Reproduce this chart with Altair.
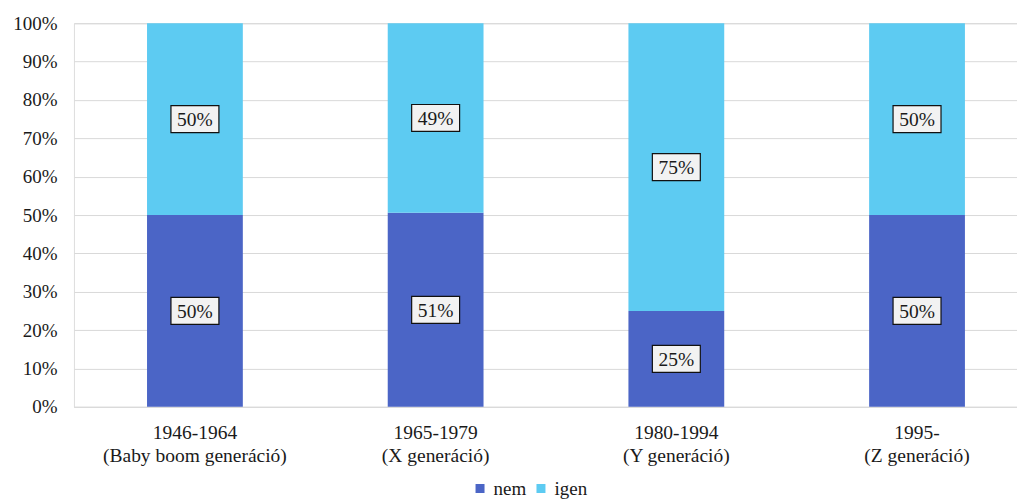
import altair as alt
import pandas as pd

categories = [
    "1946-1964|(Baby boom generáció)",
    "1965-1979|(X generáció)",
    "1980-1994|(Y generáció)",
    "1995-|(Z generáció)",
]
series = ["nem", "igen"]
nem = [0.50, 0.506, 0.25, 0.50]
igen = [0.50, 0.494, 0.75, 0.50]
colors = ["#4B65C6", "#5DCBF2"]
yticks = [0.0, 0.1, 0.2, 0.3, 0.4, 0.5, 0.6, 0.7, 0.8, 0.9, 1.0]

rows = []
for i, c in enumerate(categories):
    rows.append({"cat": c, "series": "nem", "ord": 0, "value": nem[i]})
    rows.append({"cat": c, "series": "igen", "ord": 1, "value": igen[i]})
df = pd.DataFrame(rows)

FONT = "Times New Roman, Liberation Serif, DejaVu Serif, serif"
TXT = "#1a1a1a"

base = alt.Chart(df).transform_stack(
    stack="value", groupby=["cat"], as_=["y0", "y1"], sort=[alt.SortField("ord", order="ascending")]
).transform_calculate(mid="(datum.y0 + datum.y1) / 2")

xaxis = alt.Axis(
    labelAngle=0,
    labelExpr="split(datum.label, '|')",
    labelFont=FONT,
    labelFontSize=19.5,
    labelColor=TXT,
    labelLineHeight=23,
    labelPadding=17,
    labelLimit=400,
    ticks=False,
    domain=True,
    domainColor="#d9d9d9",
    domainWidth=1,
    grid=False,
)
xscale = alt.Scale(paddingInner=0.602, paddingOuter=0.26, align=0.584)

yaxis = alt.Axis(
    format=".0%",
    values=yticks,
    labelFont=FONT,
    labelFontSize=19,
    labelColor=TXT,
    labelPadding=17,
    ticks=False,
    domain=False,
    grid=True,
    gridColor="#d9d9d9",
    gridWidth=1,
)
yscale = alt.Scale(domain=[0, 1])


def X():
    return alt.X("cat:N", sort=categories, title=None, scale=xscale, axis=xaxis)


bars = base.mark_bar().encode(
    x=X(),
    y=alt.Y("y0:Q", scale=yscale, title=None, axis=yaxis),
    y2="y1:Q",
    color=alt.Color(
        "series:N",
        scale=alt.Scale(domain=series, range=colors),
        sort=series,
        legend=alt.Legend(
            title=None,
            orient="none",
            legendX=397,
            legendY=456,
            direction="horizontal",
            symbolType="square",
            symbolSize=81,
            symbolStrokeWidth=0,
            labelFont=FONT,
            labelFontSize=19,
            labelColor=TXT,
            columnPadding=5,
            labelOffset=4,
        ),
    ),
)

boxes = base.mark_point(
    shape="M-1,-0.5625H1V0.5625H-1Z",
    size=2304,
    filled=True,
    fill="#f2f2f2",
    stroke="#111111",
    strokeWidth=1.2,
    opacity=1,
).encode(x=X(), y=alt.Y("mid:Q", scale=yscale, title=None, axis=yaxis))

labels = base.mark_text(
    font=FONT, fontSize=19.5, color=TXT, baseline="middle", align="center", dy=1
).encode(
    x=X(),
    y=alt.Y("mid:Q", scale=yscale, title=None, axis=yaxis),
    text=alt.Text("value:Q", format=".0%"),
)

chart = (
    alt.layer(bars, boxes, labels)
    .properties(width=944, height=384, padding={"left": 4, "top": 6, "right": 0, "bottom": 0})
    .configure_view(stroke=None)
    .configure(background="white")
)

chart.save("out.html", embed_options={"renderer": "svg", "actions": False})
